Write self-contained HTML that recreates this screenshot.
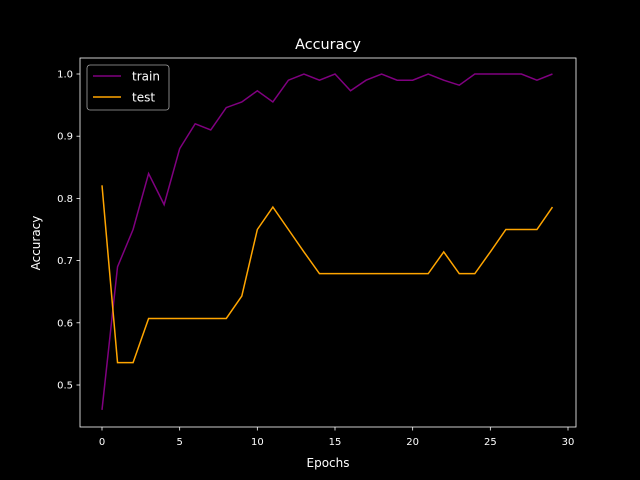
<!DOCTYPE html>
<html><head><meta charset="utf-8"><style>
html,body{margin:0;padding:0;background:#000;overflow:hidden;width:640px;height:480px;}
svg{display:block;}
svg text{font-family:"DejaVu Sans","Liberation Sans",sans-serif;fill:#fff;}
</style></head><body>
<svg id="chart" width="640" height="480" xmlns="http://www.w3.org/2000/svg">
<rect width="640" height="480" fill="#000"/>
<text x="328" y="49" font-size="14.4" text-anchor="middle">Accuracy</text>
<rect x="80" y="58" width="496" height="369" fill="none" stroke="#fff" stroke-width="0.8"/>
<g id="xt"></g><g id="yt"></g>
<text x="328" y="467" font-size="12" text-anchor="middle">Epochs</text>
<text x="40" y="243" font-size="12" text-anchor="middle" transform="rotate(-90 40 243)">Accuracy</text>
<g id="lines"></g>
<g>
<rect x="87" y="65" width="82" height="45" rx="3" fill="#000" stroke="#ccc" stroke-width="0.8" opacity="0.8"/>
<line x1="93" y1="76" x2="121" y2="76" stroke="#800080" stroke-width="1.5"/>
<text x="132" y="80.5" font-size="12">train</text>
<line x1="93" y1="97" x2="121" y2="97" stroke="#ffa500" stroke-width="1.5"/>
<text x="132" y="101.5" font-size="12">test</text>
</g>
</svg>
<script>
const epochs=[...Array(30).keys()];
const trainAcc=[0.46,0.69,0.75,0.84,0.79,0.88,0.92,0.91,0.946,0.955,0.973,0.955,0.99,1.0,0.99,1.0,0.973,0.99,1.0,0.99,0.99,1.0,0.99,0.982,1.0,1.0,1.0,1.0,0.99,1.0];
const testAcc=[0.821,0.536,0.536,0.607,0.607,0.607,0.607,0.607,0.607,0.643,0.75,0.786,0.75,0.714,0.679,0.679,0.679,0.679,0.679,0.679,0.679,0.679,0.714,0.679,0.679,0.714,0.75,0.75,0.75,0.786];
const xTicks=[0,5,10,15,20,25,30];
const yTicks=[0.5,0.6,0.7,0.8,0.9,1.0];
const NS="http://www.w3.org/2000/svg";
const X=v=>102+v*(568-102)/30;
const Y=v=>385-(v-0.5)*(385-74)/0.5;
function mk(tag,attrs,parent){const e=document.createElementNS(NS,tag);for(const k in attrs)e.setAttribute(k,attrs[k]);parent.appendChild(e);return e;}
const xt=document.getElementById('xt'),yt=document.getElementById('yt'),lines=document.getElementById('lines');
xTicks.forEach(t=>{
 const l=mk('line',{x1:X(t),x2:X(t),y1:427,y2:430.5,stroke:'#fff','stroke-width':0.8},xt);
 
 
 const tx=mk('text',{x:X(t),y:445,'font-size':10,'text-anchor':'middle'},xt);tx.textContent=t;
 
 
});
yTicks.forEach(t=>{
 const l=mk('line',{x1:76.5,x2:80,y1:Y(t),y2:Y(t),stroke:'#fff','stroke-width':0.8},yt);
 
 
 const tx=mk('text',{x:73,y:Y(t)+3.5,'font-size':10,'text-anchor':'end'},yt);tx.textContent=t.toFixed(1);
 
 
});
function series(data,color,name){
 const p=mk('polyline',{points:data.map((v,i)=>X(epochs[i])+','+Y(v)).join(' '),fill:'none',stroke:color,'stroke-width':1.5},lines);
 
 
}
series(trainAcc,'#800080','train-line');
series(testAcc,'#ffa500','test-line');
</script>
</body></html>
